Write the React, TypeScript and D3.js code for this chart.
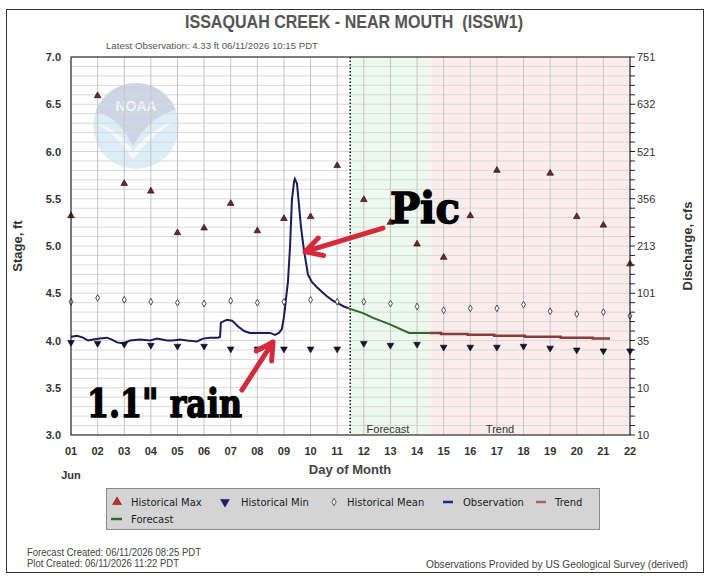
import React from 'react'
import * as d3 from 'd3'

// day of month categories (June)
const dayNums = [1, 2, 3, 4, 5, 6, 7, 8, 9, 10, 11, 12, 13, 14, 15, 16, 17, 18, 19, 20, 21, 22]
const dayLabels = ['01', '02', '03', '04', '05', '06', '07', '08', '09', '10', '11',
  '12', '13', '14', '15', '16', '17', '18', '19', '20', '21', '22']

// historical stats, ft (day 18 max is off the top of the chart)
const histMax = [5.32, 6.59, 5.66, 5.58, 5.14, 5.19, 5.45, 5.16, 5.29, 5.31, 5.85,
  5.49, 5.25, 5.02, 4.88, 5.32, 5.80, null, 5.77, 5.31, 5.22, 4.81]
const histMin = [3.98, 3.97, 3.96, 3.95, 3.94, 3.94, 3.91, 3.91, 3.91, 3.91, 3.91,
  3.97, 3.95, 3.96, 3.93, 3.93, 3.93, 3.94, 3.92, 3.90, 3.89, 3.89]
const histMean = [4.41, 4.45, 4.43, 4.41, 4.40, 4.39, 4.42, 4.40, 4.41, 4.43, 4.41,
  4.41, 4.39, 4.36, 4.32, 4.34, 4.34, 4.38, 4.31, 4.28, 4.30, 4.26]

// [day, stage ft]
const observation: [number, number][] = [
  [1.0, 4.04], [1.23, 4.05], [1.45, 4.03], [1.64, 4.0], [1.83, 4.01], [2.09, 4.02],
  [2.35, 4.03], [2.54, 4.01], [2.73, 3.98], [2.95, 3.97], [3.22, 4.0], [3.59, 4.01],
  [3.97, 4.0], [4.23, 4.02], [4.61, 4.0], [4.83, 4.0], [5.09, 4.01], [5.36, 4.0],
  [5.73, 3.99], [5.96, 4.02], [6.22, 4.03], [6.52, 4.03], [6.6, 4.04], [6.63, 4.19],
  [6.86, 4.22], [7.05, 4.21], [7.27, 4.15], [7.5, 4.1], [7.72, 4.08], [8.2, 4.08],
  [8.48, 4.08], [8.66, 4.06], [8.81, 4.08], [8.92, 4.12], [9.0, 4.25], [9.08, 4.45],
  [9.15, 4.62], [9.23, 5.0], [9.3, 5.49], [9.38, 5.68], [9.41, 5.71], [9.49, 5.66],
  [9.56, 5.45], [9.64, 5.2], [9.75, 4.96], [9.9, 4.7], [10.05, 4.62], [10.25, 4.56],
  [10.6, 4.47], [10.85, 4.42], [11.05, 4.39], [11.25, 4.36], [11.43, 4.34]
]
const forecast: [number, number][] = [
  [11.43, 4.34], [11.97, 4.29], [12.35, 4.24], [12.98, 4.17], [13.7, 4.08], [14.49, 4.08]
]
const trend: [number, number][] = [
  [14.49, 4.08], [14.9, 4.07], [15.9, 4.06], [16.9, 4.05], [18.05, 4.04], [19.4, 4.03],
  [20.6, 4.02], [21.25, 4.02]
]

const stageTicks = [3.0, 3.5, 4.0, 4.5, 5.0, 5.5, 6.0, 6.5, 7.0]
const flowLabels = ['10', '10', '35', '101', '213', '356', '521', '632', '751']

const lastObsDay = 11.49
const forecastEndDay = 14.5

// annotations in data units [day, stage]
const picArrow = { from: [12.72, 5.19], to: [9.79, 4.94] }
const rainArrow = { from: [7.42, 3.476], to: [8.59, 3.984] }
const picText = [12.98, 5.243]
const rainText = [1.6, 3.19]

const W = 711
const H = 580
const L = 71
const R = 630
const T = 57
const B = 435

const x = d3.scaleLinear().domain([1, 22]).range([L, R])
const y = d3.scaleLinear().domain([3, 7]).range([B, T])

function Arrow({ from, to }: { from: number[]; to: number[] }) {
  const x1 = x(from[0]), y1 = y(from[1]), x2 = x(to[0]), y2 = y(to[1])
  const ang = Math.atan2(y1 - y2, x1 - x2)
  const len = 19
  const a1 = ang + 0.5, a2 = ang - 0.5
  const d = `M${x1},${y1}L${x2},${y2}M${x2 + len * Math.cos(a1)},${y2 + len * Math.sin(a1)}L${x2},${y2}L${x2 + len * Math.cos(a2)},${y2 + len * Math.sin(a2)}`
  return <path d={d} fill="none" stroke="#d42a3b" strokeWidth={5} strokeLinecap="round" strokeLinejoin="round" />
}

export default function App() {
  const minor = y.ticks(40)
  const line = d3.line<[number, number]>().x(d => x(d[0])).y(d => y(d[1]))
  const stepLine = d3.line<[number, number]>().x(d => x(d[0])).y(d => y(d[1])).curve(d3.curveStepAfter)
  const triUp = d3.symbol(d3.symbolTriangle, 19)()!
  const diamond = d3.symbol(d3.symbolDiamond, 13)()!
  const legDiamond = d3.symbol(d3.symbolDiamond, 16)()!
  const legTri = d3.symbol(d3.symbolTriangle, 34)()!
  const font = 'Liberation Sans, Arial, sans-serif'
  const narrow = 'Liberation Sans Narrow, Liberation Sans, Arial, sans-serif'

  return (
    <svg width={W} height={H} style={{ position: 'absolute', left: 0, top: 0, background: '#fff' }}>
      <rect x={6.5} y={9.5} width={697} height={563} fill="#fff" stroke="#333" />
      <text x={354} y={28} textAnchor="middle" fontFamily={narrow} fontWeight="bold" fontSize={18}
        fill="#555" textLength={338} lengthAdjust="spacingAndGlyphs">
        {'ISSAQUAH CREEK - NEAR MOUTH \u00a0(ISSW1)'}
      </text>
      <text x={106} y={49} fontFamily={narrow} fontSize={9.5} fill="#555" textLength={212}
        lengthAdjust="spacingAndGlyphs">Latest Observation: 4.33 ft 06/11/2026 10:15 PDT</text>

      {/* forecast / trend shading */}
      <rect x={x(lastObsDay)} y={T} width={x(forecastEndDay) - x(lastObsDay)} height={B - T} fill="#edf9ec" />
      <rect x={x(forecastEndDay)} y={T} width={R - x(forecastEndDay)} height={B - T} fill="#fcecec" />

      {/* NOAA watermark */}
      <defs>
        <clipPath id="noaa"><circle cx={136} cy={126} r={43} /></clipPath>
      </defs>
      <g clipPath="url(#noaa)">
        <circle cx={136} cy={126} r={43} fill="#dbeef7" />
        <path d="M90,112 Q116,112 133,146 Q150,114 182,108 L182,80 L90,80 Z" fill="#ccd5e4" />
        <path d="M98,124 Q120,130 133,152 Q148,130 176,120 Q150,136 133,160 Q118,136 98,124 Z" fill="#f4f8fb" />
      </g>
      <text x={136} y={111} textAnchor="middle" fontFamily={font} fontWeight="bold" fontSize={14}
        fill="#f2f4f8">NOAA</text>

      {/* grid */}
      {minor.map(v => (
        <line key={'h' + v} x1={L} x2={R} y1={y(v)} y2={y(v)} stroke="#d9d9d9" strokeWidth={1} />
      ))}
      {dayNums.map(d => (
        <line key={'v' + d} x1={x(d)} x2={x(d)} y1={T} y2={B} stroke="#c4c4c4" strokeWidth={1} />
      ))}
      {/* right axis ticks */}
      {minor.map(v => (
        <line key={'rt' + v} x1={R} x2={R + 5} y1={y(v)} y2={y(v)} stroke="#222" strokeWidth={1} />
      ))}

      <line x1={x(lastObsDay)} x2={x(lastObsDay)} y1={T} y2={B} stroke="#111" strokeWidth={1.5} strokeDasharray="1.5,2" />

      <text x={388} y={B - 2} textAnchor="middle" fontFamily={font} fontSize={11} fill="#333">Forecast</text>
      <text x={500} y={B - 2} textAnchor="middle" fontFamily={font} fontSize={11} fill="#333">Trend</text>

      {/* lines */}
      <path d={line(observation)!} fill="none" stroke="#191c5e" strokeWidth={2} />
      <path d={line(forecast)!} fill="none" stroke="#2c6a28" strokeWidth={2} />
      <path d={stepLine(trend)!} fill="none" stroke="#8a3b3b" strokeWidth={2.5} />

      {/* historical markers */}
      {histMax.map((v, i) => v == null ? null : (
        <path key={'mx' + i} d={triUp} transform={`translate(${x(dayNums[i])},${y(v)})`}
          fill="#7a2222" stroke="#1a1a1a" strokeWidth={0.7} />
      ))}
      {histMin.map((v, i) => (
        <path key={'mn' + i} d={triUp} transform={`translate(${x(dayNums[i])},${y(v)}) rotate(180)`}
          fill="#14143c" stroke="#111" strokeWidth={0.7} />
      ))}
      {histMean.map((v, i) => (
        <path key={'me' + i} d={diamond} transform={`translate(${x(dayNums[i])},${y(v)})`}
          fill="#fff" stroke="#222" strokeWidth={0.8} />
      ))}

      <rect x={L} y={T} width={R - L} height={B - T} fill="none" stroke="#111" strokeWidth={1} />

      {/* axes labels */}
      {stageTicks.map(v => (
        <text key={'yl' + v} x={61} y={y(v) + 4} textAnchor="end" fontFamily={font} fontWeight="bold"
          fontSize={11} fill="#333">{v.toFixed(1)}</text>
      ))}
      {stageTicks.map((v, i) => (
        <text key={'yr' + v} x={637} y={y(v) + 4} fontFamily={font} fontSize={11} fill="#333">{flowLabels[i]}</text>
      ))}
      {dayNums.map((d, i) => (
        <text key={'xl' + d} x={x(d)} y={455} textAnchor="middle" fontFamily={font} fontWeight="bold"
          fontSize={11} fill="#333">{dayLabels[i]}</text>
      ))}
      <text x={71} y={479} textAnchor="middle" fontFamily={font} fontWeight="bold" fontSize={11} fill="#333">Jun</text>
      <text x={350} y={474} textAnchor="middle" fontFamily={font} fontWeight="bold" fontSize={13} fill="#444">Day of Month</text>
      <text transform={`translate(22,${(T + B) / 2}) rotate(-90)`} textAnchor="middle" fontFamily={font}
        fontWeight="bold" fontSize={13} fill="#333">Stage, ft</text>
      <text transform={`translate(692,${(T + B) / 2}) rotate(-90)`} textAnchor="middle" fontFamily={font}
        fontWeight="bold" fontSize={13} fill="#333">Discharge, cfs</text>

      {/* annotations */}
      <Arrow from={picArrow.from} to={picArrow.to} />
      <Arrow from={rainArrow.from} to={rainArrow.to} />
      <text x={x(picText[0])} y={y(picText[1])} fontFamily="DejaVu Serif, serif" fontWeight="bold" fontSize={42}
        fill="#000" stroke="#000" strokeWidth={1.5} textLength={70} lengthAdjust="spacingAndGlyphs">Pic</text>
      <text x={x(rainText[0])} y={y(rainText[1])} fontFamily="DejaVu Serif, serif" fontWeight="bold" fontSize={40}
        fill="#000" stroke="#000" strokeWidth={1.5} textLength={155} lengthAdjust="spacingAndGlyphs">{'1.1" rain'}</text>

      {/* legend */}
      <rect x={106.5} y={488.5} width={493} height={41} fill="#d4d4d4" stroke="#8a8a8a" />
      <g fontFamily="DejaVu Sans, sans-serif" fontSize={10} fill="#222">
        <path d={legTri} transform="translate(117,502)" fill="#c0302a" stroke="#5a1010" strokeWidth={0.5} />
        <text x={131} y={506}>Historical Max</text>
        <path d={legTri} transform="translate(225,502) rotate(180)" fill="#1c1c7a" stroke="#101040" strokeWidth={0.5} />
        <text x={241} y={506}>Historical Min</text>
        <path d={legDiamond} transform="translate(334,502)" fill="#fff" stroke="#333" strokeWidth={0.8} />
        <text x={347} y={506}>Historical Mean</text>
        <line x1={443} x2={453} y1={502} y2={502} stroke="#1c2a9a" strokeWidth={2.5} />
        <text x={463} y={506}>Observation</text>
        <line x1={536} x2={546} y1={502} y2={502} stroke="#b06060" strokeWidth={2.5} />
        <text x={555} y={506}>Trend</text>
        <line x1={111} x2={122} y1={519} y2={519} stroke="#2d6b2d" strokeWidth={2.5} />
        <text x={131} y={523}>Forecast</text>
      </g>

      {/* footer */}
      <text x={27} y={556} fontFamily={narrow} fontSize={10.5} fill="#444" textLength={174}
        lengthAdjust="spacingAndGlyphs">Forecast Created: 06/11/2026 08:25 PDT</text>
      <text x={27} y={567} fontFamily={narrow} fontSize={10.5} fill="#444" textLength={152}
        lengthAdjust="spacingAndGlyphs">Plot Created: 06/11/2026 11:22 PDT</text>
      <text x={426} y={568} fontFamily={narrow} fontSize={10.5} fill="#444" textLength={262}
        lengthAdjust="spacingAndGlyphs">Observations Provided by US Geological Survey (derived)</text>
    </svg>
  )
}
